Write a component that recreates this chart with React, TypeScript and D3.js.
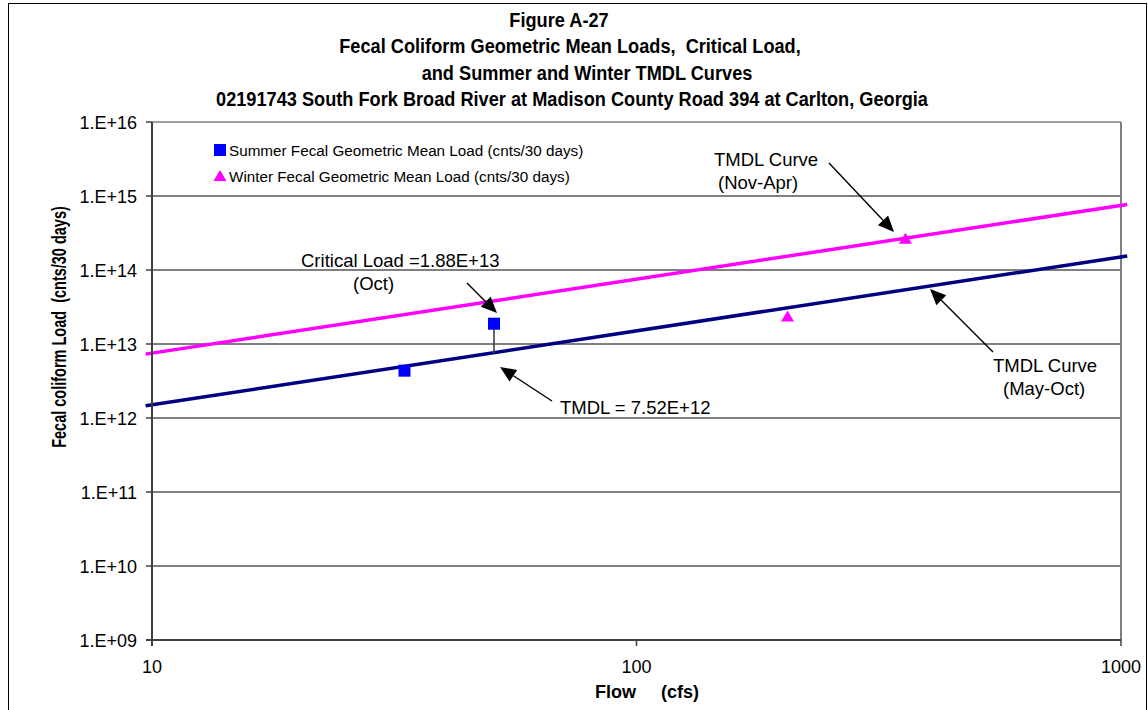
import React from "react";
import * as d3 from "d3";

// ---------- data ----------
const tmdlFlows = [9.7, 1030];
const summerTmdl = [1.46e12, 1.55e14];
const winterTmdl = [7.3e12, 7.7e14];

const summerFlows = [33.2, 50.8];
const summerLoads = [4.36e12, 1.88e13];

const winterFlows = [205, 359];
const winterLoads = [2.39e13, 2.68e14];

const criticalFlow = 50.8;
const criticalLoad = 1.88e13;
const tmdlAtCritical = 7.52e12;

const yTicks = [1e9, 1e10, 1e11, 1e12, 1e13, 1e14, 1e15, 1e16];
const yTickLabels = ["1.E+09", "1.E+10", "1.E+11", "1.E+12", "1.E+13", "1.E+14", "1.E+15", "1.E+16"];
const xTicks = [10, 100, 1000];
const xTickLabels = ["10", "100", "1000"];

const titleLines = [
  "Figure A-27",
  "Fecal Coliform Geometric Mean Loads,  Critical Load,",
  "and Summer and Winter TMDL Curves",
  "02191743 South Fork Broad River at Madison County Road 394 at Carlton, Georgia",
];
const legendLabels = [
  "Summer Fecal Geometric Mean Load (cnts/30 days)",
  "Winter Fecal Geometric Mean Load (cnts/30 days)",
];

// ---------- layout ----------
const W = 1148;
const H = 710;
const L = 152, R = 1121, T = 122, B = 640;
const FONT = "'Liberation Sans', Arial, sans-serif";

const titleCenters = [559, 570, 587, 572];
const titleBaselines = [27, 53, 80, 106];

function Arrow({ x1, y1, x2, y2 }: { x1: number; y1: number; x2: number; y2: number }) {
  const ang = Math.atan2(y2 - y1, x2 - x1);
  const len = 16, half = 7;
  const bx = x2 - len * Math.cos(ang), by = y2 - len * Math.sin(ang);
  const px = -Math.sin(ang) * half, py = Math.cos(ang) * half;
  return (
    <g>
      <line x1={x1} y1={y1} x2={bx} y2={by} stroke="#000" strokeWidth={1.4} />
      <polygon points={`${x2},${y2} ${bx + px},${by + py} ${bx - px},${by - py}`} fill="#000" />
    </g>
  );
}

export default function App() {
  const x = d3.scaleLog().domain([10, 1000]).range([L, R]);
  const y = d3.scaleLog().domain([1e9, 1e16]).range([B, T]);

  const line = d3
    .line<[number, number]>()
    .x((d) => x(d[0]))
    .y((d) => y(d[1]));

  const summerLine = line(tmdlFlows.map((f, i) => [f, summerTmdl[i]] as [number, number]));
  const winterLine = line(tmdlFlows.map((f, i) => [f, winterTmdl[i]] as [number, number]));

  const sq = 12;
  const triW = 13, triH = 11;
  const tri = (cx: number, cy: number) =>
    `${cx},${cy - triH / 2} ${cx + triW / 2},${cy + triH / 2} ${cx - triW / 2},${cy + triH / 2}`;

  return (
    <svg
      width={W}
      height={H}
      style={{ position: "absolute", left: 0, top: 0, background: "#fff", fontFamily: FONT }}
    >
      <rect x={0} y={0} width={W} height={H} fill="#fff" />
      <rect x={8.5} y={3.5} width={1138} height={720} fill="none" stroke="#000" strokeWidth={1} />

      {/* title */}
      {titleLines.map((t, i) => (
        <text
          key={i}
          transform={`translate(${titleCenters[i]},${titleBaselines[i]}) scale(1.01,1.1)`}
          textAnchor="middle"
          fontSize={18}
          fontWeight="bold"
          style={{ whiteSpace: "pre" }}
        >
          {t}
        </text>
      ))}

      {/* gridlines */}
      {yTicks.slice(1, -1).map((v) => (
        <line key={v} x1={L} x2={R} y1={y(v)} y2={y(v)} stroke="#000" strokeWidth={1} />
      ))}
      {/* plot border top/right */}
      <line x1={L} x2={R} y1={T} y2={T} stroke="#808080" strokeWidth={1.5} />
      <line x1={R} x2={R} y1={T} y2={B} stroke="#808080" strokeWidth={2} />

      {/* TMDL curves */}
      <path d={winterLine || ""} fill="none" stroke="#FF00FF" strokeWidth={3.5} />
      <path d={summerLine || ""} fill="none" stroke="#000080" strokeWidth={3.5} />

      {/* critical drop line */}
      <line
        x1={x(criticalFlow)}
        x2={x(criticalFlow)}
        y1={y(criticalLoad)}
        y2={y(tmdlAtCritical)}
        stroke="#404040"
        strokeWidth={1.6}
      />

      {/* markers */}
      {summerFlows.map((f, i) => (
        <rect
          key={i}
          x={x(f) - sq / 2}
          y={y(summerLoads[i]) - sq / 2}
          width={sq}
          height={sq}
          fill="#0000FF"
        />
      ))}
      {winterFlows.map((f, i) => (
        <polygon key={i} points={tri(x(f), y(winterLoads[i]))} fill="#FF00FF" />
      ))}

      {/* axes */}
      <line x1={L} x2={L} y1={T} y2={B + 6} stroke="#404040" strokeWidth={2} />
      <line x1={L - 6} x2={R} y1={B} y2={B} stroke="#404040" strokeWidth={2} />
      {yTicks.map((v, i) => (
        <g key={v}>
          <line x1={L - 6} x2={L} y1={y(v)} y2={y(v)} stroke="#404040" strokeWidth={1.5} />
          <text x={137} y={y(v) + 6.5} textAnchor="end" fontSize={18}>
            {yTickLabels[i]}
          </text>
        </g>
      ))}
      {xTicks.map((v, i) => (
        <g key={v}>
          <line x1={x(v)} x2={x(v)} y1={B} y2={B + 6} stroke="#404040" strokeWidth={1.5} />
          <text x={x(v)} y={673} textAnchor="middle" fontSize={18}>
            {xTickLabels[i]}
          </text>
        </g>
      ))}

      {/* axis titles */}
      <text
        x={647}
        y={698}
        textAnchor="middle"
        fontSize={18}
        fontWeight="bold"
        style={{ whiteSpace: "pre" }}
      >
        {"Flow     (cfs)"}
      </text>
      <text
        transform={`translate(66,327) rotate(-90) scale(1,1.35)`}
        textAnchor="middle"
        fontSize={14.5}
        fontWeight="bold"
        style={{ whiteSpace: "pre" }}
      >
        {"Fecal coliform Load  (cnts/30 days)"}
      </text>

      {/* legend */}
      <rect x={214} y={144} width={12} height={12} fill="#0000FF" />
      <text x={229} y={156} fontSize={15.25}>
        {legendLabels[0]}
      </text>
      <polygon points={`220,170 226.5,181 213.5,181`} fill="#FF00FF" />
      <text x={229} y={182} fontSize={15.25}>
        {legendLabels[1]}
      </text>

      {/* annotations */}
      <text x={301} y={267} fontSize={18.5}>Critical Load =1.88E+13</text>
      <text x={353} y={290} fontSize={18.5}>(Oct)</text>
      <Arrow x1={467} y1={283} x2={497} y2={313} />

      <text x={560} y={414} fontSize={18.5}>TMDL = 7.52E+12</text>
      <Arrow x1={552} y1={401} x2={500} y2={367} />

      <text x={714} y={166} fontSize={18.5}>TMDL Curve</text>
      <text x={718} y={189} fontSize={18.5}>(Nov-Apr)</text>
      <Arrow x1={829} y1={163} x2={894} y2={232} />

      <text x={993} y={372} fontSize={18.5}>TMDL Curve</text>
      <text x={1003} y={395} fontSize={18.5}>(May-Oct)</text>
      <Arrow x1={993} y1={352} x2={930} y2={289} />
    </svg>
  );
}
